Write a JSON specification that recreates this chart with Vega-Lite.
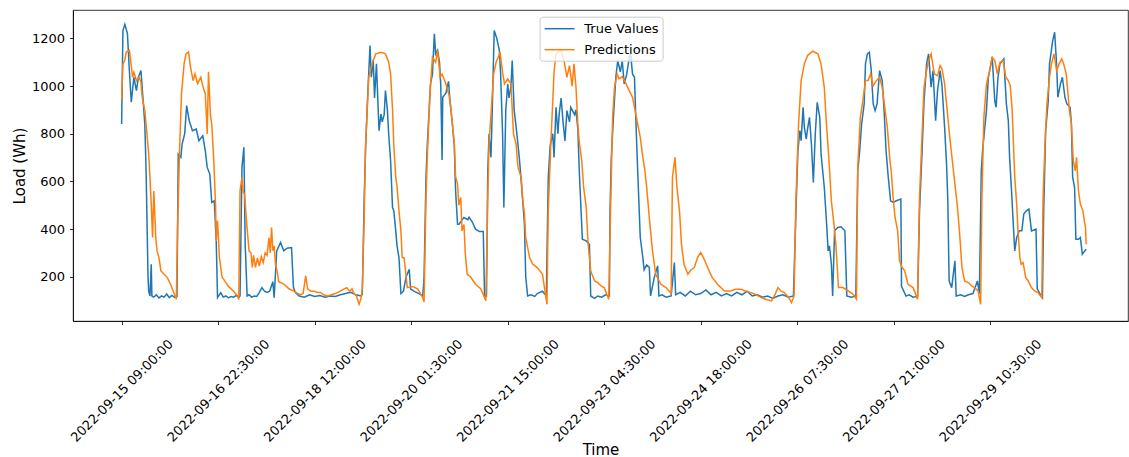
{
"$schema": "https://vega.github.io/schema/vega-lite/v6.json",
"width": 1055, "height": 311,
"autosize": {"type": "none"},
"padding": {"left": 73, "top": 10, "right": 1, "bottom": 136},
"background": "white",
"datasets": {
"truth": [
{"h":0,"v":841},{"h":0.5,"v":1233},{"h":1.25,"v":1259},{"h":2.25,"v":1220},{"h":3,"v":1065},{"h":3.75,"v":932},{"h":4.75,"v":1037},{"h":5.75,"v":981},{"h":6.5,"v":1037},{"h":7.5,"v":1065},{"h":8.25,"v":953},{"h":9,"v":841},{"h":9.5,"v":645},{"h":10.25,"v":200},{"h":10.5,"v":140},{"h":11,"v":120},{"h":11.5,"v":253},{"h":11.75,"v":120},{"h":12.5,"v":115},{"h":13.5,"v":125},{"h":14.5,"v":112},{"h":15.5,"v":120},{"h":16.5,"v":115},{"h":17.5,"v":128},{"h":18.5,"v":113},{"h":19.5,"v":122},{"h":20.5,"v":115},{"h":21.5,"v":118},
{"h":22,"v":715},{"h":23,"v":701},{"h":23.5,"v":757},{"h":24.5,"v":800},{"h":25.25,"v":918},{"h":26.25,"v":855},{"h":27.5,"v":813},{"h":29,"v":820},{"h":30,"v":771},{"h":31.5,"v":792},{"h":32.5,"v":729},{"h":33.25,"v":659},{"h":34.25,"v":631},{"h":35,"v":512},{"h":36,"v":519},{"h":36.75,"v":351},{"h":37.25,"v":113},{"h":38.5,"v":134},{"h":39.5,"v":115},{"h":40.5,"v":120},{"h":41.5,"v":112},{"h":42.5,"v":118},{"h":43.5,"v":115},{"h":44.5,"v":122},{"h":45.5,"v":114},{"h":46,"v":120},
{"h":46.75,"v":659},{"h":47.5,"v":743},{"h":48,"v":337},{"h":48.75,"v":120},{"h":49.5,"v":125},{"h":50.5,"v":115},{"h":51.5,"v":120},{"h":52.5,"v":118},{"h":53.5,"v":135},{"h":54.5,"v":155},{"h":55.5,"v":140},{"h":56.5,"v":135},{"h":57.5,"v":140},{"h":58.75,"v":180},{"h":59.25,"v":113},{"h":60.25,"v":309},{"h":61.75,"v":344},{"h":63,"v":309},{"h":64.25,"v":320},{"h":66,"v":323},{"h":66.75,"v":155},{"h":67.5,"v":134},
{"h":69,"v":120},{"h":71,"v":115},{"h":73,"v":125},{"h":75,"v":118},{"h":77,"v":122},{"h":79,"v":115},{"h":81,"v":120},{"h":83,"v":118},{"h":85,"v":125},{"h":87,"v":130},{"h":89,"v":135},{"h":91,"v":125},{"h":93,"v":120},{"h":93.5,"v":127},
{"h":94.25,"v":533},{"h":94.75,"v":729},{"h":95.5,"v":937},{"h":96.5,"v":1170},{"h":97,"v":1037},{"h":97.75,"v":1110},{"h":98.25,"v":950},{"h":99,"v":1093},{"h":100,"v":813},{"h":100.75,"v":883},{"h":101.25,"v":850},{"h":102,"v":880},{"h":102.5,"v":981},{"h":103.25,"v":900},{"h":103.75,"v":800},{"h":104.5,"v":687},{"h":105.25,"v":491},{"h":105.75,"v":477},{"h":106.5,"v":393},{"h":107,"v":330},{"h":107.75,"v":281},{"h":108.5,"v":130},{"h":109.5,"v":140},{"h":110.5,"v":200},{"h":111.75,"v":232},{"h":112.25,"v":150},{"h":113.5,"v":140},{"h":115.5,"v":130},{"h":117,"v":120},{"h":117.5,"v":200},
{"h":118.25,"v":617},{"h":118.75,"v":750},{"h":120,"v":1009},{"h":120.75,"v":1050},{"h":121.5,"v":1219},{"h":122,"v":1135},{"h":122.75,"v":1150},{"h":123.5,"v":1100},{"h":124,"v":1000},{"h":124.5,"v":690},{"h":124.75,"v":953},{"h":126,"v":970},{"h":127,"v":1020},{"h":127.5,"v":950},{"h":128.5,"v":841},{"h":129.25,"v":750},{"h":129.75,"v":561},{"h":130.5,"v":421},{"h":131,"v":420},{"h":132.5,"v":442},{"h":133,"v":449},{"h":134.5,"v":440},{"h":135,"v":450},{"h":136.25,"v":430},{"h":137.5,"v":400},{"h":139,"v":390},{"h":140.5,"v":390},{"h":141,"v":120},{"h":141.75,"v":120},
{"h":142.25,"v":645},{"h":142.75,"v":800},{"h":143.5,"v":701},{"h":144,"v":900},{"h":144.75,"v":1233},{"h":145.75,"v":1200},{"h":146.75,"v":1150},{"h":147.25,"v":1050},{"h":148,"v":800},{"h":148.5,"v":491},{"h":149.25,"v":900},{"h":150,"v":1009},{"h":150.5,"v":950},{"h":151.25,"v":1000},{"h":151.75,"v":1107},{"h":152.5,"v":900},{"h":153.25,"v":830},{"h":153.75,"v":780},{"h":154.5,"v":700},{"h":155.25,"v":600},{"h":155.75,"v":530},{"h":156.5,"v":421},{"h":157,"v":200},{"h":157.75,"v":120},{"h":159,"v":125},{"h":160.5,"v":118},{"h":161.5,"v":130},{"h":163.5,"v":140},{"h":165,"v":120},
{"h":165.75,"v":617},{"h":166.5,"v":750},{"h":167.5,"v":800},{"h":168,"v":701},{"h":168.75,"v":911},{"h":169.5,"v":800},{"h":170,"v":883},{"h":170.75,"v":950},{"h":171.5,"v":850},{"h":172.25,"v":770},{"h":173,"v":897},{"h":174,"v":850},{"h":174.5,"v":911},{"h":176,"v":880},{"h":176.5,"v":900},{"h":177.25,"v":820},{"h":177.75,"v":659},{"h":178.5,"v":477},{"h":179,"v":358},{"h":180.5,"v":351},{"h":181.75,"v":337},{"h":182.25,"v":120},{"h":183.75,"v":110},{"h":185,"v":120},{"h":186.5,"v":115},{"h":188,"v":125},{"h":189.5,"v":120},
{"h":189.75,"v":477},{"h":190.25,"v":701},{"h":191,"v":855},{"h":192,"v":1037},{"h":192.75,"v":1107},{"h":193.75,"v":1060},{"h":194.5,"v":1107},{"h":195.25,"v":1009},{"h":196.25,"v":1050},{"h":197.25,"v":1121},{"h":197.75,"v":1135},{"h":198.5,"v":1050},{"h":199.25,"v":1037},{"h":199.75,"v":869},{"h":200.5,"v":645},{"h":201.5,"v":365},{"h":202.5,"v":281},{"h":203,"v":230},{"h":204,"v":250},{"h":205,"v":240},{"h":205.5,"v":120},{"h":207,"v":200},{"h":208.25,"v":246},{"h":208.75,"v":120},{"h":210,"v":125},{"h":211.5,"v":115},{"h":213.5,"v":120},{"h":214.75,"v":260},{"h":215.25,"v":125},
{"h":217,"v":135},{"h":219,"v":120},{"h":221,"v":140},{"h":223,"v":125},{"h":225,"v":130},{"h":227,"v":145},{"h":229,"v":125},{"h":231,"v":135},{"h":233,"v":120},{"h":235,"v":130},{"h":237,"v":120},{"h":239,"v":135},{"h":241,"v":125},{"h":243,"v":140},{"h":245,"v":120},{"h":247,"v":125},{"h":249,"v":115},{"h":251,"v":120},{"h":253,"v":110},{"h":255,"v":120},{"h":257,"v":125},{"h":259,"v":115},{"h":261,"v":120},
{"h":262,"v":477},{"h":262.75,"v":729},{"h":263.5,"v":813},{"h":264,"v":771},{"h":264.75,"v":911},{"h":265.25,"v":827},{"h":266,"v":778},{"h":266.5,"v":820},{"h":267.25,"v":869},{"h":268,"v":757},{"h":268.75,"v":596},{"h":269.5,"v":800},{"h":270.25,"v":932},{"h":271.25,"v":869},{"h":271.75,"v":715},{"h":273,"v":575},{"h":273.75,"v":449},{"h":274.5,"v":309},{"h":275,"v":330},{"h":275.75,"v":253},{"h":276.25,"v":120},{"h":277,"v":393},{"h":278.25,"v":407},{"h":279.5,"v":410},{"h":281,"v":393},{"h":281.75,"v":120},{"h":283.5,"v":115},{"h":285.25,"v":120},
{"h":286,"v":645},{"h":286.75,"v":729},{"h":287.5,"v":841},{"h":288.5,"v":925},{"h":289,"v":1093},{"h":289.75,"v":1135},{"h":290.5,"v":1142},{"h":291.25,"v":1065},{"h":292,"v":925},{"h":292.75,"v":897},{"h":293.5,"v":925},{"h":294.5,"v":1065},{"h":295.5,"v":1023},{"h":296.25,"v":897},{"h":297,"v":729},{"h":297.75,"v":631},{"h":298.75,"v":519},{"h":299.75,"v":512},{"h":301,"v":519},{"h":302.75,"v":526},{"h":303,"v":160},{"h":304.75,"v":120},{"h":306,"v":125},{"h":307.5,"v":115},{"h":309.25,"v":118},
{"h":310,"v":477},{"h":311,"v":729},{"h":311.75,"v":937},{"h":312.75,"v":1093},{"h":313.5,"v":1135},{"h":314.5,"v":995},{"h":315.25,"v":1065},{"h":316.25,"v":855},{"h":317,"v":981},{"h":318,"v":1065},{"h":318.75,"v":1000},{"h":319.75,"v":827},{"h":320.5,"v":673},{"h":321,"v":519},{"h":321.5,"v":183},{"h":322.5,"v":155},{"h":323.75,"v":267},{"h":324.25,"v":120},{"h":326,"v":125},{"h":327.5,"v":118},{"h":329,"v":125},{"h":330.75,"v":130},{"h":332.5,"v":183},{"h":333.25,"v":130},
{"h":334,"v":645},{"h":334.5,"v":729},{"h":335.25,"v":813},{"h":336,"v":897},{"h":336.75,"v":1037},{"h":337.25,"v":1065},{"h":338.25,"v":1121},{"h":339.25,"v":937},{"h":339.75,"v":911},{"h":340.5,"v":1037},{"h":341.25,"v":1093},{"h":342.25,"v":1107},{"h":342.75,"v":1114},{"h":343.75,"v":925},{"h":344.5,"v":855},{"h":345,"v":701},{"h":345.75,"v":561},{"h":346.5,"v":407},{"h":347,"v":309},{"h":347.75,"v":365},{"h":348.75,"v":393},{"h":349.75,"v":393},{"h":350.5,"v":463},{"h":351.5,"v":477},{"h":352.5,"v":484},{"h":353.5,"v":393},{"h":355.25,"v":400},{"h":355.75,"v":150},{"h":356.75,"v":130},{"h":357.75,"v":113},
{"h":358.25,"v":477},{"h":359,"v":813},{"h":360,"v":937},{"h":360.5,"v":1093},{"h":361.75,"v":1191},{"h":362.5,"v":1226},{"h":363.25,"v":1093},{"h":363.75,"v":953},{"h":364.75,"v":1009},{"h":365.5,"v":1037},{"h":366.5,"v":953},{"h":367.25,"v":925},{"h":368.5,"v":911},{"h":369,"v":841},{"h":369.5,"v":617},{"h":370.25,"v":575},{"h":370.75,"v":358},{"h":371.75,"v":358},{"h":372.5,"v":365},{"h":373.25,"v":295},{"h":374.25,"v":309},{"h":374.75,"v":316}
],
"pred": [
{"h":0,"v":946},{"h":0.5,"v":1093},{"h":1.25,"v":1108},{"h":1.75,"v":1143},{"h":3,"v":1150},{"h":3.5,"v":1108},{"h":4.25,"v":1037},{"h":4.75,"v":1058},{"h":5.75,"v":1023},{"h":6.75,"v":1037},{"h":7.5,"v":1016},{"h":8,"v":953},{"h":9,"v":897},{"h":9.5,"v":841},{"h":10.5,"v":715},{"h":11,"v":617},{"h":11.5,"v":505},{"h":12,"v":365},{"h":12.5,"v":560},{"h":13.25,"v":365},{"h":13.75,"v":309},{"h":14.5,"v":281},{"h":15.25,"v":225},{"h":16.5,"v":211},{"h":17.75,"v":197},{"h":19,"v":169},{"h":20.5,"v":127},{"h":21.25,"v":106},
{"h":21.75,"v":421},{"h":22.5,"v":729},{"h":23.25,"v":967},{"h":24.25,"v":1093},{"h":25,"v":1135},{"h":26,"v":1143},{"h":26.75,"v":1079},{"h":27.75,"v":1023},{"h":28.5,"v":1051},{"h":29.5,"v":1010},{"h":30.75,"v":1037},{"h":31.5,"v":1002},{"h":32.5,"v":967},{"h":33,"v":860},{"h":33.25,"v":799},{"h":33.75,"v":1060},{"h":34.5,"v":880},{"h":35,"v":841},{"h":35.75,"v":700},{"h":36.5,"v":500},{"h":36.75,"v":351},{"h":37.25,"v":435},{"h":38,"v":280},{"h":39,"v":200},{"h":40.25,"v":180},{"h":41.5,"v":160},{"h":43.5,"v":140},{"h":45,"v":120},{"h":45.5,"v":105},
{"h":46,"v":561},{"h":46.75,"v":617},{"h":47.25,"v":554},{"h":47.75,"v":550},{"h":48.5,"v":435},{"h":49.5,"v":309},{"h":50.25,"v":300},{"h":50.75,"v":240},{"h":51.25,"v":290},{"h":52,"v":240},{"h":52.75,"v":280},{"h":53.5,"v":245},{"h":54.25,"v":285},{"h":55,"v":260},{"h":55.75,"v":300},{"h":56.5,"v":290},{"h":57.25,"v":365},{"h":57.75,"v":300},{"h":58.25,"v":407},{"h":58.75,"v":310},{"h":59.25,"v":330},{"h":59.75,"v":253},{"h":60.5,"v":220},{"h":61,"v":180},{"h":62,"v":175},{"h":63,"v":170},{"h":64,"v":160},{"h":65,"v":150},{"h":66,"v":145},{"h":67,"v":140},{"h":68.5,"v":130},{"h":69.5,"v":125},{"h":70.5,"v":130},{"h":71.5,"v":204},{"h":72.25,"v":150},{"h":73.5,"v":140},{"h":74.75,"v":140},{"h":76,"v":135},{"h":77.25,"v":135},{"h":78.5,"v":125},{"h":80,"v":120},{"h":81.5,"v":125},{"h":83,"v":130},{"h":85,"v":140},{"h":86.5,"v":150},{"h":87.5,"v":155},{"h":88.5,"v":140},{"h":89.5,"v":150},{"h":90.25,"v":130},{"h":91.25,"v":120},{"h":92.25,"v":85},{"h":93,"v":110},{"h":93.5,"v":150},
{"h":94.25,"v":450},{"h":94.75,"v":750},{"h":95.5,"v":918},{"h":96,"v":1037},{"h":97.5,"v":1100},{"h":98.75,"v":1135},{"h":100.75,"v":1142},{"h":102.5,"v":1135},{"h":103.75,"v":1100},{"h":104.5,"v":1051},{"h":105.25,"v":900},{"h":105.75,"v":750},{"h":106.5,"v":617},{"h":107,"v":580},{"h":107.75,"v":477},{"h":108.5,"v":393},{"h":109,"v":281},{"h":109.75,"v":280},{"h":111,"v":155},{"h":113,"v":160},{"h":115,"v":150},{"h":117,"v":113},{"h":117.5,"v":95},
{"h":118.25,"v":533},{"h":118.75,"v":700},{"h":119.5,"v":900},{"h":120,"v":1000},{"h":120.75,"v":1121},{"h":122,"v":1100},{"h":122.75,"v":1150},{"h":123.75,"v":1037},{"h":124.5,"v":1050},{"h":126,"v":1009},{"h":127.25,"v":960},{"h":128,"v":897},{"h":129.25,"v":757},{"h":129.75,"v":620},{"h":130.5,"v":589},{"h":131,"v":500},{"h":131.75,"v":533},{"h":132.25,"v":393},{"h":133,"v":420},{"h":133.5,"v":300},{"h":134.25,"v":211},{"h":135.5,"v":200},{"h":137.5,"v":169},{"h":139.5,"v":150},{"h":140.75,"v":120},{"h":141.5,"v":100},
{"h":142.25,"v":533},{"h":142.75,"v":757},{"h":143.75,"v":925},{"h":144.5,"v":1050},{"h":145.5,"v":1100},{"h":146.25,"v":1120},{"h":147,"v":1143},{"h":148,"v":1058},{"h":148.75,"v":1009},{"h":150,"v":1030},{"h":151.25,"v":1009},{"h":152.25,"v":799},{"h":153.25,"v":757},{"h":154,"v":659},{"h":155.25,"v":617},{"h":155.75,"v":533},{"h":156.5,"v":463},{"h":157,"v":365},{"h":158.5,"v":281},{"h":159.75,"v":253},{"h":161.5,"v":239},{"h":163.5,"v":211},{"h":165.25,"v":85},
{"h":165.75,"v":477},{"h":166.75,"v":757},{"h":168,"v":1058},{"h":168.75,"v":1135},{"h":170.75,"v":1152},{"h":172,"v":1100},{"h":173,"v":1037},{"h":174,"v":1086},{"h":175,"v":1000},{"h":175.75,"v":1093},{"h":176.5,"v":1000},{"h":177.25,"v":841},{"h":177.75,"v":771},{"h":178.75,"v":687},{"h":179.5,"v":575},{"h":180.5,"v":491},{"h":181.25,"v":337},{"h":182.25,"v":225},{"h":183.75,"v":183},{"h":185,"v":176},{"h":186.5,"v":160},{"h":187.5,"v":155},{"h":189.25,"v":106},
{"h":190,"v":500},{"h":190.75,"v":869},{"h":191.5,"v":995},{"h":192.5,"v":1051},{"h":193.25,"v":1030},{"h":194.5,"v":1040},{"h":196,"v":1009},{"h":197.25,"v":980},{"h":198.5,"v":953},{"h":199.5,"v":897},{"h":200.5,"v":841},{"h":201.5,"v":785},{"h":202.5,"v":701},{"h":203.25,"v":650},{"h":204,"v":575},{"h":205,"v":449},{"h":205.5,"v":393},{"h":206.25,"v":309},{"h":207.5,"v":211},{"h":209.5,"v":169},{"h":211.5,"v":155},{"h":213.5,"v":130},
{"h":214,"v":617},{"h":215,"v":701},{"h":215.75,"v":575},{"h":216.75,"v":477},{"h":217.5,"v":337},{"h":218.5,"v":253},{"h":220,"v":211},{"h":221.25,"v":230},{"h":222.5,"v":239},{"h":223.75,"v":281},{"h":225,"v":302},{"h":226.5,"v":270},{"h":228.25,"v":225},{"h":229.5,"v":197},{"h":231.5,"v":169},{"h":234.25,"v":141},{"h":236.75,"v":141},{"h":238.5,"v":148},{"h":240.75,"v":148},{"h":242.5,"v":140},{"h":244.5,"v":134},{"h":246.5,"v":125},{"h":248.5,"v":113},{"h":250.5,"v":105},{"h":252.5,"v":99},{"h":254,"v":130},{"h":255,"v":155},{"h":256.25,"v":140},{"h":257.5,"v":134},{"h":259,"v":115},{"h":260.25,"v":92},{"h":261.25,"v":120},
{"h":262,"v":533},{"h":263,"v":841},{"h":264,"v":1023},{"h":265.25,"v":1093},{"h":266.5,"v":1128},{"h":268.5,"v":1146},{"h":270.5,"v":1135},{"h":271.75,"v":1093},{"h":273,"v":995},{"h":273.75,"v":855},{"h":274.75,"v":701},{"h":275.75,"v":519},{"h":276.75,"v":421},{"h":277.5,"v":337},{"h":278.5,"v":155},{"h":280.25,"v":155},{"h":282.25,"v":141},{"h":284.25,"v":127},{"h":285.5,"v":106},
{"h":286,"v":660},{"h":287,"v":869},{"h":288,"v":939},{"h":289,"v":1023},{"h":290,"v":1023},{"h":291,"v":1051},{"h":292,"v":1002},{"h":293.25,"v":1023},{"h":294.5,"v":1037},{"h":295.5,"v":995},{"h":296.5,"v":911},{"h":297.5,"v":827},{"h":298.5,"v":687},{"h":299,"v":645},{"h":299.75,"v":533},{"h":300.5,"v":449},{"h":301.5,"v":393},{"h":302.25,"v":267},{"h":303.25,"v":239},{"h":304.25,"v":225},{"h":305.5,"v":169},{"h":307.5,"v":155},{"h":309.25,"v":106},
{"h":310,"v":533},{"h":311,"v":799},{"h":311.75,"v":995},{"h":312.75,"v":1065},{"h":313.5,"v":1107},{"h":314.5,"v":1135},{"h":315.75,"v":1051},{"h":317,"v":1044},{"h":318,"v":1086},{"h":318.75,"v":1072},{"h":319.75,"v":1009},{"h":320.75,"v":897},{"h":321.75,"v":785},{"h":322.75,"v":687},{"h":323.75,"v":589},{"h":324.75,"v":491},{"h":325.5,"v":393},{"h":326.5,"v":239},{"h":327.5,"v":183},{"h":329,"v":176},{"h":330.25,"v":162},{"h":331.5,"v":155},{"h":332.75,"v":141},{"h":333.75,"v":85},
{"h":334.25,"v":533},{"h":335,"v":869},{"h":336,"v":1009},{"h":337,"v":1051},{"h":338.25,"v":1121},{"h":339.25,"v":1107},{"h":340.25,"v":1051},{"h":341.25,"v":1100},{"h":342.5,"v":1107},{"h":343.5,"v":1037},{"h":344.5,"v":1023},{"h":345.25,"v":1002},{"h":346,"v":897},{"h":346.5,"v":757},{"h":347,"v":617},{"h":347.75,"v":505},{"h":348.25,"v":393},{"h":349,"v":281},{"h":349.5,"v":253},{"h":350.25,"v":260},{"h":351.25,"v":197},{"h":352.25,"v":183},{"h":353.5,"v":155},{"h":354.75,"v":141},{"h":356,"v":134},{"h":357.5,"v":113},
{"h":358,"v":533},{"h":358.75,"v":757},{"h":359.5,"v":925},{"h":360.5,"v":1037},{"h":361.25,"v":1093},{"h":362.25,"v":1135},{"h":363.25,"v":1065},{"h":364.25,"v":1093},{"h":365.25,"v":1114},{"h":366,"v":1093},{"h":367,"v":1051},{"h":368.25,"v":897},{"h":369,"v":841},{"h":369.75,"v":687},{"h":370.5,"v":645},{"h":371,"v":701},{"h":371.75,"v":561},{"h":372.5,"v":505},{"h":373.5,"v":477},{"h":374,"v":435},{"h":374.5,"v":407},{"h":374.75,"v":337}
]
},
"encoding": {
  "x": {"field": "h", "type": "quantitative",
        "scale": {"domain": [-18.9, 391], "nice": false, "zero": false},
        "axis": {"title": "Time", "values": [0,37.5,75,112.5,150,187.5,225,262.5,300,337.5],
                 "labelExpr": "timeFormat(time(datetime(2022,8,15,9,0,0,0)) + datum.value*3600000, '%Y-%m-%d %H:%M:%S')",
                 "labelAngle": -45, "labelAlign": "center", "labelBaseline": "middle", "labelPadding": 66,
                 "labelOverlap": false, "labelBound": false, "labelFlush": false, "labelLimit": 0,
                 "titleY": 133, "titleBaseline": "alphabetic"}},
  "y": {"field": "v", "type": "quantitative",
        "scale": {"domain": [15, 1319], "nice": false, "zero": false},
        "axis": {"title": "Load (Wh)", "values": [200,400,600,800,1000,1200], "format": "d", "labelPadding": 5,
                 "titleX": -53.4, "titleBaseline": "middle"}}
},
"layer": [
  {"data": {"name": "truth"}, "mark": {"type": "line", "strokeWidth": 1.5},
   "encoding": {"color": {"datum": "True Values", "type": "nominal",
      "scale": {"domain": ["True Values", "Predictions"], "range": ["#1f77b4", "#ff7f0e"]},
      "legend": {"title": null}}}},
  {"data": {"name": "pred"}, "mark": {"type": "line", "strokeWidth": 1.5},
   "encoding": {"color": {"datum": "Predictions", "type": "nominal"}}}
],
"config": {
  "font": "DejaVu Sans",
  "view": {"stroke": "#000000", "strokeWidth": 0.8},
  "axis": {"grid": false, "domainColor": "#000000", "domainWidth": 0.8, "tickColor": "#000000", "tickWidth": 0.8, "tickSize": 3.5,
           "labelFont": "DejaVu Sans", "labelFontSize": 13, "labelColor": "#000000",
           "titleFont": "DejaVu Sans", "titleFontSize": 15, "titleFontWeight": "normal", "titleColor": "#000000"},
  "legend": {"orient": "none", "legendX": 466.6, "legendY": 6.7,
             "symbolType": "M-2.143,0H2.143", "symbolSize": 196, "symbolStrokeWidth": 1.5, "symbolOffset": 8,
             "labelOffset": 16.7, "labelFont": "DejaVu Sans", "labelFontSize": 13, "labelColor": "#000000",
             "padding": 4, "rowPadding": 6, "fillColor": "rgba(255,255,255,0.8)", "strokeColor": "#cccccc", "cornerRadius": 3}
}
}
